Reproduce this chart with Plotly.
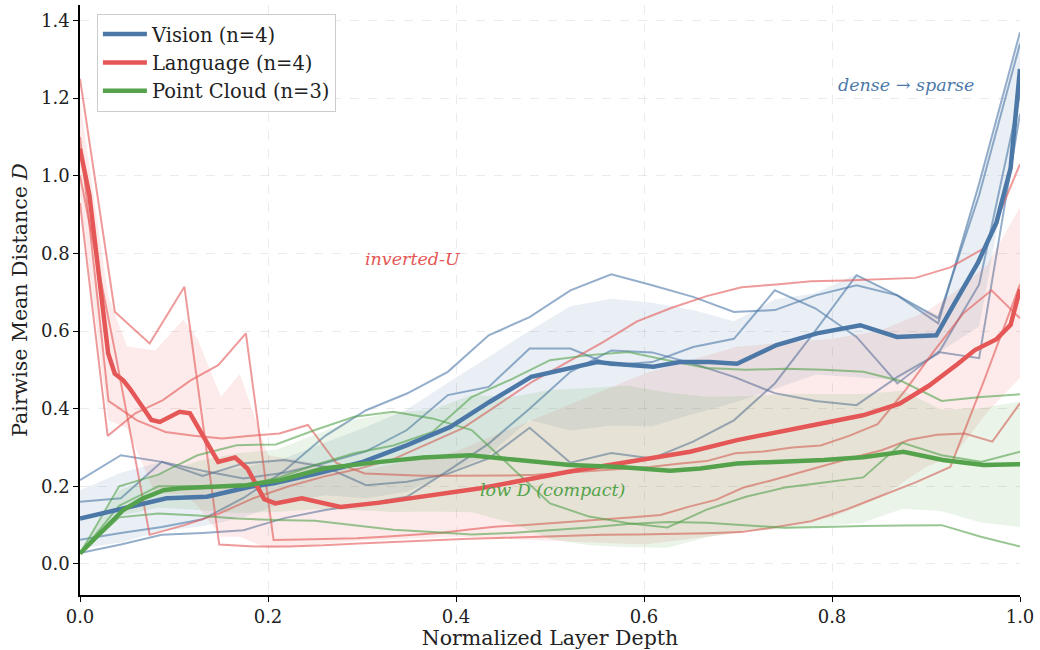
import plotly.graph_objects as go

# ---------------- data ----------------
# Vision models: 24 layers, depth = i/23
vision_x = [i / 23 for i in range(24)]
vision_1 = [0.062, 0.08, 0.095, 0.115, 0.17, 0.24, 0.33, 0.396, 0.439, 0.495, 0.589, 0.636,
            0.705, 0.746, 0.718, 0.688, 0.649, 0.654, 0.692, 0.718, 0.692, 0.62, 0.98, 1.37]
vision_2 = [0.216, 0.28, 0.263, 0.227, 0.259, 0.268, 0.25, 0.203, 0.212, 0.232, 0.272, 0.351,
            0.261, 0.286, 0.272, 0.315, 0.37, 0.465, 0.602, 0.744, 0.692, 0.633, 0.95, 1.34]
vision_3 = [0.16, 0.169, 0.263, 0.24, 0.22, 0.235, 0.26, 0.29, 0.345, 0.435, 0.456, 0.555,
            0.555, 0.512, 0.52, 0.559, 0.58, 0.705, 0.658, 0.585, 0.465, 0.546, 0.53, 1.16]
vision_4 = [0.028, 0.05, 0.075, 0.08, 0.087, 0.118, 0.139, 0.155, 0.173, 0.24, 0.31, 0.40,
            0.495, 0.55, 0.545, 0.516, 0.482, 0.44, 0.42, 0.409, 0.482, 0.542, 0.72, 1.21]

vision_mean_x = [0.0, 0.046, 0.092, 0.135, 0.181, 0.206, 0.252, 0.301, 0.348, 0.394, 0.436, 0.48,
                 0.525, 0.55, 0.567, 0.61, 0.638, 0.67, 0.699, 0.741, 0.784, 0.83, 0.869, 0.911,
                 0.93, 0.955, 0.975, 0.99, 1.0]
vision_mean = [0.117, 0.144, 0.169, 0.173, 0.199, 0.208, 0.233, 0.263, 0.306, 0.353, 0.418, 0.482,
               0.508, 0.52, 0.516, 0.508, 0.52, 0.52, 0.516, 0.564, 0.594, 0.615, 0.585, 0.589,
               0.67, 0.775, 0.88, 1.02, 1.275]
vision_band_x = vision_x
vision_band_lo = [0.04, 0.055, 0.085, 0.097, 0.12, 0.158, 0.177, 0.169, 0.186, 0.233, 0.281, 0.371,
                  0.344, 0.357, 0.355, 0.386, 0.415, 0.451, 0.488, 0.481, 0.473, 0.544, 0.612, 1.182]
vision_band_hi = [0.19, 0.235, 0.263, 0.235, 0.248, 0.272, 0.313, 0.353, 0.398, 0.467, 0.533, 0.601,
                  0.664, 0.683, 0.673, 0.654, 0.625, 0.681, 0.698, 0.747, 0.693, 0.64, 0.978, 1.358]

# Language models
lang_1_x = [i / 27 for i in range(28)]
lang_1 = [1.25, 0.65, 0.568, 0.714, 0.05, 0.045, 0.045, 0.048, 0.053, 0.057, 0.06, 0.064, 0.067, 0.07,
          0.072, 0.075, 0.076, 0.077, 0.079, 0.082, 0.095, 0.11, 0.14, 0.175, 0.21, 0.25, 0.48, 0.72]
lang_2_x = [i / 33 for i in range(34)]
lang_2 = [1.1, 0.42, 0.37, 0.34, 0.33, 0.323, 0.33, 0.336, 0.358, 0.26, 0.233, 0.23, 0.227, 0.227,
          0.227, 0.228, 0.23, 0.235, 0.24, 0.245, 0.25, 0.258, 0.265, 0.285, 0.29, 0.3, 0.305, 0.33,
          0.36, 0.45, 0.55, 0.645, 0.705, 0.633]
lang_3_x = [i / 34 for i in range(35)]
lang_3 = [0.93, 0.33, 0.388, 0.422, 0.473, 0.512, 0.594, 0.062, 0.063, 0.065, 0.066, 0.07, 0.075, 0.08,
          0.088, 0.096, 0.1, 0.105, 0.109, 0.115, 0.12, 0.126, 0.147, 0.165, 0.197, 0.215, 0.235, 0.255,
          0.275, 0.293, 0.32, 0.333, 0.336, 0.315, 0.414]
lang_4_x = [i / 27 for i in range(28)]
lang_4 = [1.0, 0.55, 0.075, 0.1, 0.13, 0.17, 0.2, 0.225, 0.245, 0.27, 0.31, 0.35, 0.41, 0.47, 0.52,
          0.57, 0.625, 0.66, 0.69, 0.713, 0.72, 0.728, 0.73, 0.733, 0.737, 0.764, 0.815, 1.03]

lang_mean_x = [0.0, 0.01, 0.03, 0.037, 0.046, 0.053, 0.076, 0.085, 0.106, 0.117, 0.147, 0.165, 0.178,
               0.196, 0.208, 0.236, 0.277, 0.319, 0.426, 0.521, 0.649, 0.699, 0.77, 0.833, 0.872,
               0.903, 0.933, 0.952, 0.975, 0.99, 1.0]
lang_mean = [1.07, 0.95, 0.542, 0.49, 0.473, 0.452, 0.371, 0.366, 0.392, 0.388, 0.263, 0.274, 0.246,
             0.167, 0.156, 0.169, 0.147, 0.158, 0.195, 0.238, 0.289, 0.319, 0.353, 0.383, 0.413,
             0.459, 0.514, 0.551, 0.579, 0.616, 0.708]
lang_band_x = [0.0, 0.03, 0.05, 0.08, 0.11, 0.125, 0.15, 0.17, 0.2, 0.25, 0.3, 0.4, 0.5, 0.6, 0.7,
               0.8, 0.85, 0.9, 0.93, 0.965, 1.0]
lang_band_lo = [0.95, 0.37, 0.35, 0.18, 0.18, 0.15, 0.07, 0.07, 0.04, 0.05, 0.06, 0.07, 0.06, 0.05,
                0.08, 0.12, 0.17, 0.25, 0.28, 0.39, 0.48]
lang_band_hi = [1.19, 0.69, 0.56, 0.55, 0.63, 0.58, 0.43, 0.49, 0.28, 0.26, 0.24, 0.29, 0.39, 0.49,
                0.56, 0.58, 0.60, 0.65, 0.70, 0.77, 0.92]

# Point-cloud models: 25 layers, depth = i/24
pc_x = [i / 24 for i in range(25)]
pc_1 = [0.027, 0.2, 0.23, 0.28, 0.306, 0.308, 0.345, 0.379, 0.392, 0.375, 0.345, 0.25, 0.156, 0.122,
        0.105, 0.094, 0.14, 0.173, 0.197, 0.21, 0.223, 0.312, 0.28, 0.263, 0.289]
pc_2 = [0.027, 0.12, 0.13, 0.125, 0.117, 0.113, 0.111, 0.1, 0.088, 0.082, 0.076, 0.08, 0.087, 0.094,
        0.103, 0.108, 0.106, 0.1, 0.093, 0.095, 0.098, 0.099, 0.1, 0.07, 0.045]
pc_3 = [0.027, 0.15, 0.2, 0.2, 0.2, 0.22, 0.255, 0.285, 0.305, 0.34, 0.43, 0.475, 0.525, 0.538, 0.546,
        0.525, 0.505, 0.5, 0.503, 0.5, 0.495, 0.47, 0.42, 0.43, 0.437]

pc_mean_x = [0.0, 0.021, 0.046, 0.067, 0.089, 0.106, 0.142, 0.177, 0.213, 0.259, 0.312, 0.365, 0.415,
             0.468, 0.521, 0.574, 0.628, 0.66, 0.699, 0.791, 0.833, 0.876, 0.918, 0.961, 1.0]
pc_mean = [0.027, 0.079, 0.139, 0.169, 0.19, 0.195, 0.199, 0.203, 0.216, 0.246, 0.261, 0.274, 0.28,
           0.268, 0.255, 0.25, 0.24, 0.246, 0.259, 0.268, 0.275, 0.289, 0.268, 0.255, 0.257]
pc_band_x = pc_x
pc_band_lo = [0.027, 0.124, 0.145, 0.139, 0.131, 0.134, 0.141, 0.139, 0.134, 0.135, 0.133, 0.106, 0.064,
              0.048, 0.043, 0.042, 0.069, 0.084, 0.09, 0.098, 0.106, 0.142, 0.136, 0.107, 0.095]
pc_band_hi = [0.027, 0.19, 0.229, 0.265, 0.285, 0.294, 0.333, 0.371, 0.39, 0.397, 0.435, 0.43, 0.448,
              0.454, 0.459, 0.442, 0.431, 0.432, 0.438, 0.438, 0.438, 0.446, 0.398, 0.401, 0.419]

x_ticks = [0.0, 0.2, 0.4, 0.6, 0.8, 1.0]
y_ticks = [0.0, 0.2, 0.4, 0.6, 0.8, 1.0, 1.2, 1.4]

# ---------------- styling ----------------
FONT = "DejaVu Serif"
BLUE, RED, GREEN = (76, 120, 168), (228, 87, 86), (84, 162, 75)


def rgba(c, a):
    return f"rgba({c[0]},{c[1]},{c[2]},{a})"


groups = [
    ("Vision (n=4)", BLUE,
     [(vision_x, vision_1), (vision_x, vision_2), (vision_x, vision_3), (vision_x, vision_4)],
     (vision_band_x, vision_band_lo, vision_band_hi), (vision_mean_x, vision_mean)),
    ("Language (n=4)", RED,
     [(lang_1_x, lang_1), (lang_2_x, lang_2), (lang_3_x, lang_3), (lang_4_x, lang_4)],
     (lang_band_x, lang_band_lo, lang_band_hi), (lang_mean_x, lang_mean)),
    ("Point Cloud (n=3)", GREEN,
     [(pc_x, pc_1), (pc_x, pc_2), (pc_x, pc_3)],
     (pc_band_x, pc_band_lo, pc_band_hi), (pc_mean_x, pc_mean)),
]

fig = go.Figure()
for name, col, lines, band, mean in groups:
    for lx, ly in lines:
        fig.add_trace(go.Scatter(x=lx, y=ly, mode="lines", showlegend=False, hoverinfo="skip",
                                 line=dict(color=rgba(col, 0.6), width=2)))
    bx, blo, bhi = band
    fig.add_trace(go.Scatter(x=list(bx) + list(bx)[::-1], y=list(bhi) + list(blo)[::-1],
                             mode="lines", fill="toself", fillcolor=rgba(col, 0.12),
                             line=dict(width=0), showlegend=False, hoverinfo="skip"))
for name, col, lines, band, mean in groups:
    fig.add_trace(go.Scatter(x=mean[0], y=mean[1], mode="lines", name=name,
                             line=dict(color=rgba(col, 1), width=4.5)))

annots = [
    (0.879, 1.235, "dense \u2192 sparse", BLUE),
    (0.354, 0.785, "inverted-U", RED),
    (0.503, 0.19, "low D (compact)", GREEN),
]
for ax_, ay_, txt, col in annots:
    fig.add_annotation(x=ax_, y=ay_, text=f"<i>{txt}</i>", showarrow=False,
                       font=dict(family=FONT, size=17.5, color=rgba(col, 1)),
                       xanchor="center", yanchor="middle")

axis_common = dict(showline=True, linecolor="black", linewidth=1.5, ticks="outside",
                   ticklen=5, tickwidth=1.2, tickcolor="black", mirror=False,
                   showgrid=True, gridcolor="rgba(0,0,0,0.08)", griddash="dash", gridwidth=1,
                   zeroline=False, tickfont=dict(family=FONT, size=18, color="#222"),
                   tickformat=".1f", automargin=False)

fig.update_layout(
    width=1040, height=650,
    margin=dict(l=80, r=20, t=5, b=55),
    plot_bgcolor="white", paper_bgcolor="white",
    font=dict(family=FONT, size=18, color="#222"),
    xaxis=dict(range=[0, 1], tickvals=x_ticks,
               title=dict(text="Normalized Layer Depth", font=dict(family=FONT, size=20.5), standoff=12),
               **axis_common),
    yaxis=dict(range=[-0.08, 1.44], tickvals=y_ticks,
               title=dict(text="Pairwise Mean Distance <i>D</i>", font=dict(family=FONT, size=20.5),
                          standoff=8),
               **axis_common),
    legend=dict(x=0.018, y=0.985, xanchor="left", yanchor="top",
                bgcolor="rgba(255,255,255,0.85)", bordercolor="#cccccc", borderwidth=1,
                font=dict(family=FONT, size=19.5), itemwidth=44, tracegroupgap=2),
)

fig.write_html("out.html")
